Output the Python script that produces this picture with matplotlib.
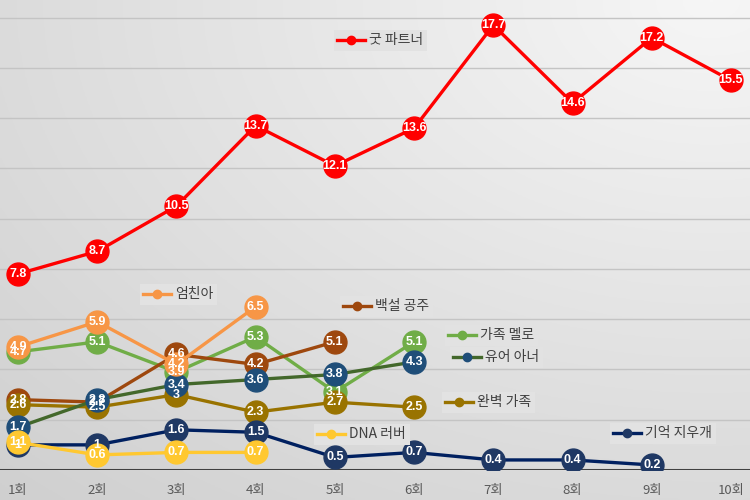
import numpy as np
import matplotlib.pyplot as plt
from matplotlib.lines import Line2D

plt.rcParams['font.family'] = ['Noto Sans CJK KR', 'DejaVu Sans']

# ===== data =====
episodes = ['1회', '2회', '3회', '4회', '5회', '6회', '7회', '8회', '9회', '10회']

good_partner = [7.8, 8.7, 10.5, 13.7, 12.1, 13.6, 17.7, 14.6, 17.2, 15.5]
umchina = [4.9, 5.9, 4.2, 6.5]
family_melo = [4.7, 5.1, 3.9, 5.3, 3.1, 5.1]
snow_white = [2.8, 2.7, 4.6, 4.2, 5.1]
your_honor = [1.7, 2.8, 3.4, 3.6, 3.8, 4.3]
perfect_family = [2.6, 2.5, 3.0, 2.3, 2.7, 2.5]
dna_lover = [1.1, 0.6, 0.7, 0.7]
eraser = [1.0, 1.0, 1.6, 1.5, 0.5, 0.7, 0.4, 0.4, 0.2]

# name, values, line colour, marker colour, legend box (left, top px)
series = [
    ('가족 멜로', family_melo, '#70AD47', '#70AD47', (445, 325)),
    ('백설 공주', snow_white, '#9E480E', '#9E480E', (340, 296)),
    ('완벽 가족', perfect_family, '#997300', '#997300', (442, 392)),
    ('유어 아너', your_honor, '#43682B', '#1F4E79', (450, 347)),
    ('엄친아', umchina, '#F79646', '#F79646', (140, 284)),
    ('기억 지우개', eraser, '#002060', '#1F3864', (610, 423)),
    ('DNA 러버', dna_lover, '#FFC830', '#FFC830', (314, 424)),
    ('굿 파트너', good_partner, '#FF0000', '#FF0000', (334, 30)),
]

W, H = 750, 500
fig = plt.figure(figsize=(7.5, 5), dpi=100)

# ----- gradient background -----
bg = fig.add_axes([0, 0, 1, 1], zorder=0)
gx, gy = np.meshgrid(np.linspace(0, 1, 300), np.linspace(1, 0, 200))
d = np.sqrt((gx - 0.95) ** 2 + (gy - 1.0) ** 2)
shade = 0.965 - 0.11 * d
bg.imshow(np.dstack([shade] * 3), aspect='auto', extent=[0, 1, 0, 1])
bg.axis('off')

# ----- main axes -----
ax = fig.add_axes([0, 30 / H, 1, 1 - 30 / H], zorder=1)
ax.set_facecolor('none')
x_all = np.arange(1, len(episodes) + 1)
step = 79.2
ax.set_xlim(1 - 18 / step, 10 + 19 / step)
ax.set_ylim(0, 18.7)

for y in np.arange(2, 19, 2):
    ax.axhline(y, color='#c4c4c4', lw=1, zorder=1)
ax.axhline(0, color='#404040', lw=2.2, zorder=2)

for i, (name, vals, lc, mc, pos) in enumerate(series):
    xs = x_all[:len(vals)]
    ax.plot(xs, vals, color=lc, lw=2.4, zorder=3 + i * 0.1,
            marker='o', markersize=16.5, markerfacecolor=mc, markeredgecolor=mc)
    for xv, v in zip(xs, vals):
        ax.text(xv, v, f'{v:g}', ha='center', va='center', color='white',
                fontsize=9, fontweight='bold', family=['Liberation Sans', 'DejaVu Sans'],
                zorder=10)
    h = Line2D([], [], color=lc, lw=2.4, marker='o', markersize=6,
               markerfacecolor=mc, markeredgecolor=mc)
    leg = ax.legend(handles=[h], labels=[name], loc='upper left',
                    bbox_to_anchor=(pos[0] / W, 1 - pos[1] / H),
                    bbox_transform=fig.transFigure, borderaxespad=0,
                    frameon=True, fancybox=False, facecolor='#e2e2e2',
                    edgecolor='none', framealpha=1, fontsize=10,
                    handlelength=2.0, handletextpad=0.3, borderpad=0.25,
                    labelcolor='#404040')
    leg.set_zorder(11)
    ax.add_artist(leg)

ax.set_xticks(x_all)
ax.set_xticklabels(episodes, color='#595959', fontsize=9.5)
ax.tick_params(axis='x', length=0, pad=10)
ax.set_yticks([])
for s in ax.spines.values():
    s.set_visible(False)

fig.savefig('out.png', dpi=100)
